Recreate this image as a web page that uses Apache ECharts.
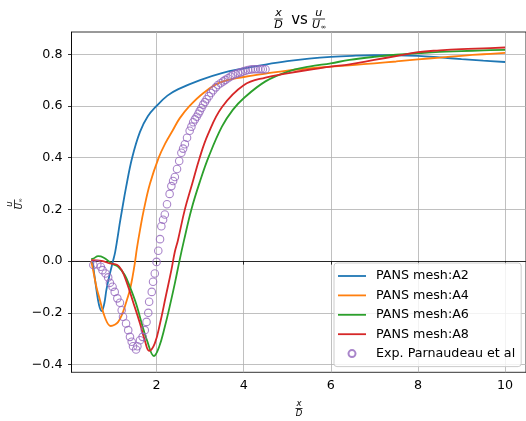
<!DOCTYPE html>
<html><head><meta charset="utf-8">
<script src="https://cdn.jsdelivr.net/npm/echarts@6/dist/echarts.min.js"></script>
<style>html,body{margin:0;padding:0;background:#fff}#c{width:526px;height:421px}</style>
</head><body><div id="c"></div>
<script>
const xTicks = [2, 4, 6, 8, 10];
const yTicks = [-0.4, -0.2, 0, 0.2, 0.4, 0.6, 0.8];
const seriesNames = ['PANS mesh:A2', 'PANS mesh:A4', 'PANS mesh:A6', 'PANS mesh:A8', 'Exp. Parnaudeau et al'];
const colors = ['#1f77b4', '#ff7f0e', '#2ca02c', '#d62728', '#9467bd'];

const a2 = [[0.5,0.0],[0.52,0.0],[0.57,-0.05],[0.62,-0.11],[0.68,-0.17],[0.74,-0.193],[0.8,-0.165],[0.85,-0.11],[0.92,-0.055],[1.0,0.0],[1.05,0.035],[1.1,0.085],[1.15,0.14],[1.2,0.19],[1.3,0.285],[1.44,0.4],[1.62,0.5],[1.8,0.56],[2.0,0.6],[2.25,0.64],[2.5,0.665],[3.0,0.7],[3.5,0.727],[4.0,0.745],[4.5,0.76],[5.0,0.773],[5.5,0.783],[6.0,0.79],[6.5,0.794],[7.0,0.796],[7.5,0.796],[8.0,0.794],[8.5,0.788],[9.0,0.781],[9.5,0.775],[10.0,0.77]];
const a4 = [[0.5,0.0],[0.55,-0.04],[0.62,-0.1],[0.7,-0.15],[0.82,-0.22],[0.95,-0.251],[1.05,-0.245],[1.12,-0.235],[1.2,-0.21],[1.27,-0.177],[1.33,-0.145],[1.39,-0.11],[1.45,-0.06],[1.5,-0.01],[1.55,0.05],[1.62,0.12],[1.71,0.2],[1.85,0.3],[2.05,0.4],[2.2,0.455],[2.37,0.505],[2.53,0.552],[2.76,0.6],[3.07,0.649],[3.45,0.69],[4.0,0.712],[4.5,0.725],[5.0,0.737],[5.5,0.745],[6.0,0.752],[6.5,0.758],[7.0,0.765],[7.5,0.772],[8.0,0.78],[8.5,0.787],[9.0,0.794],[9.5,0.8],[10.0,0.805]];
const a6 = [[0.5,0.008],[0.55,0.01],[0.66,0.019],[0.78,0.014],[0.97,-0.009],[1.12,-0.022],[1.27,-0.054],[1.39,-0.1],[1.53,-0.164],[1.66,-0.241],[1.78,-0.306],[1.94,-0.367],[2.06,-0.331],[2.19,-0.254],[2.3,-0.177],[2.42,-0.086],[2.53,0.004],[2.63,0.08],[2.8,0.2],[3.0,0.31],[3.2,0.405],[3.5,0.52],[3.75,0.585],[4.0,0.63],[4.5,0.695],[5.0,0.732],[5.5,0.752],[6.0,0.765],[6.43,0.778],[7.0,0.79],[7.5,0.798],[8.0,0.804],[8.5,0.809],[9.0,0.812],[9.5,0.815],[10.0,0.817]];
const a8 = [[0.5,0.004],[0.52,0.004],[0.74,0.001],[0.93,-0.009],[1.1,-0.015],[1.2,-0.035],[1.31,-0.08],[1.46,-0.157],[1.62,-0.241],[1.73,-0.306],[1.83,-0.347],[1.96,-0.318],[2.08,-0.241],[2.21,-0.138],[2.34,-0.035],[2.42,0.036],[2.49,0.08],[2.65,0.2],[2.82,0.3],[2.99,0.4],[3.18,0.49],[3.5,0.595],[4.0,0.68],[4.5,0.71],[5.0,0.726],[5.5,0.74],[6.0,0.752],[6.43,0.761],[7.0,0.778],[7.5,0.793],[8.0,0.808],[8.5,0.815],[9.0,0.82],[9.5,0.823],[10.0,0.826]];
const exp = [[0.55,-0.015],[0.64,-0.012],[0.72,-0.022],[0.76,-0.035],[0.83,-0.048],[0.89,-0.063],[0.93,-0.084],[0.99,-0.099],[1.04,-0.119],[1.10,-0.144],[1.16,-0.161],[1.20,-0.19],[1.23,-0.215],[1.30,-0.241],[1.35,-0.267],[1.39,-0.293],[1.43,-0.312],[1.46,-0.329],[1.53,-0.342],[1.56,-0.329],[1.62,-0.306],[1.68,-0.293],[1.73,-0.267],[1.77,-0.235],[1.81,-0.2],[1.83,-0.157],[1.89,-0.119],[1.92,-0.08],[1.96,-0.048],[2.0,-0.003],[2.04,0.04],[2.08,0.085],[2.11,0.135],[2.15,0.16],[2.19,0.18],[2.24,0.22],[2.30,0.26],[2.34,0.29],[2.38,0.31],[2.42,0.325],[2.47,0.356],[2.52,0.387],[2.57,0.419],[2.61,0.435],[2.65,0.452],[2.70,0.477],[2.76,0.504],[2.80,0.52],[2.84,0.537],[2.88,0.548],[2.92,0.558],[2.96,0.57],[2.99,0.58],[3.03,0.592],[3.07,0.605],[3.11,0.615],[3.15,0.626],[3.20,0.638],[3.25,0.65],[3.30,0.661],[3.36,0.672],[3.41,0.681],[3.47,0.688],[3.53,0.695],[3.58,0.701],[3.64,0.707],[3.70,0.714],[3.75,0.72],[3.81,0.723],[3.87,0.727],[3.93,0.73],[3.98,0.733],[4.04,0.736],[4.10,0.739],[4.16,0.741],[4.21,0.742],[4.27,0.742],[4.33,0.742],[4.39,0.742],[4.44,0.742],[4.50,0.742]];

const FONT = 'DejaVu Sans';
function frac(cx, cy, num, den, sub, fs, barW, rot) {
  const ts = {fontSize: fs, fontStyle: 'italic', fontFamily: FONT, fill: '#000', align: 'center', verticalAlign: 'middle'};
  const children = [
    {type: 'text', x: 0, y: -fs * 0.55, style: Object.assign({text: num}, ts)},
    {type: 'line', shape: {x1: -barW / 2, y1: 0, x2: barW / 2, y2: 0}, style: {stroke: '#000', lineWidth: 0.8}},
    {type: 'text', x: sub ? -fs * 0.25 : 0, y: fs * 0.58, style: Object.assign({text: den}, ts)}
  ];
  if (sub) children.push({type: 'text', x: fs * 0.42, y: fs * 0.75, style: Object.assign({}, ts, {text: sub, fontSize: fs * 0.6, fontStyle: 'normal'})});
  return {type: 'group', x: cx, y: cy, rotation: rot || 0, children};
}

const lineData = [a2, a4, a6, a8];
const series = lineData.map((d, i) => ({
  name: seriesNames[i], type: 'line', data: d, showSymbol: false, symbol: 'none',
  smooth: 0.4, z: 2,
  lineStyle: {color: colors[i], width: 1.8}, itemStyle: {color: colors[i]}
}));
series.push({
  name: seriesNames[4], type: 'scatter', data: exp, symbol: 'circle', symbolSize: 7.5, z: 3,
  itemStyle: {color: 'rgba(0,0,0,0)', borderColor: colors[4], borderWidth: 1.1}
});

const chart = echarts.init(document.getElementById('c'), null, {renderer: 'canvas'});
chart.setOption({
  animation: false,
  backgroundColor: '#fff',
  textStyle: {fontFamily: FONT},
  grid: {left: 71.5, right: -1, top: 32, bottom: 48.7, show: true, borderColor: '#000', borderWidth: 0.8, backgroundColor: 'transparent'},
  xAxis: {
    type: 'value', min: 0.048, max: 10.48,
    axisLine: {show: true, lineStyle: {color: '#000', width: 0.8}},
    axisTick: {show: true, length: 3.5, lineStyle: {color: '#000', width: 0.8}, customValues: xTicks},
    axisLabel: {customValues: xTicks, fontSize: 12.7, color: '#000', fontFamily: FONT, margin: 7, formatter: v => String(v)},
    splitLine: {show: true, lineStyle: {color: '#b0b0b0', width: 0.8}}
  },
  yAxis: {
    type: 'value', min: -0.43, max: 0.886,
    axisLine: {show: true, lineStyle: {color: '#000', width: 0.8}},
    axisTick: {show: true, length: 3.5, lineStyle: {color: '#000', width: 0.8}, customValues: yTicks},
    axisLabel: {customValues: yTicks, fontSize: 12.7, color: '#000', fontFamily: FONT, margin: 9,
      formatter: v => (v < -1e-9 ? '\u2212' : '') + Math.abs(v).toFixed(1)},
    splitLine: {show: true, lineStyle: {color: '#b0b0b0', width: 0.8}}
  },
  legend: {
    orient: 'vertical', left: 334, top: 263, padding: [6, 6, 6, 4],
    itemWidth: 28, itemHeight: 7, itemGap: 5.4, symbolKeepAspect: true,
    backgroundColor: 'rgba(255,255,255,0.8)', borderColor: '#cccccc', borderWidth: 1, borderRadius: 3,
    textStyle: {fontSize: 12.7, color: '#000', fontFamily: FONT, lineHeight: 14, padding: [0, 0, 0, 5]},
    data: seriesNames.map((n, i) => i < 4 ? {name: n, icon: 'path://M0,0H28V1.8H0Z'} : {name: n, icon: 'circle'})
  },
  graphic: [
    frac(278.5, 19, 'x', 'D', null, 11, 8.5),
    {type: 'text', x: 299.5, y: 20, style: {text: 'vs', fontSize: 15, fontFamily: FONT, fill: '#000', align: 'center', verticalAlign: 'middle'}},
    frac(318.8, 19, 'u', 'U', '\u221e', 11, 12.5),
    frac(299, 408.5, 'x', 'D', null, 8.5, 7),
    frac(14.5, 204, 'u', 'U', '\u221e', 8.5, 9, Math.PI / 2)
  ],
  series
});
</script>
</body></html>
